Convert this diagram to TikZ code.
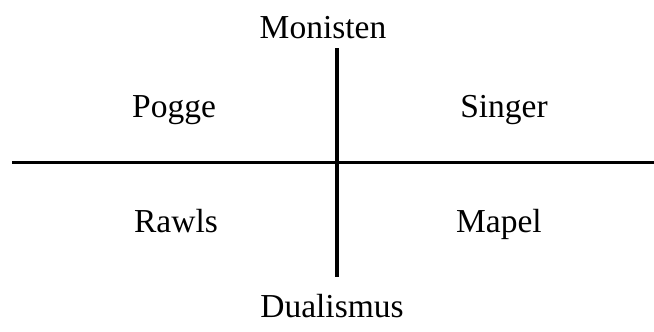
\documentclass[tikz,border=0pt]{standalone}
\usepackage{fontspec}
\setmainfont{Liberation Serif}
\begin{document}
\begin{tikzpicture}[x=1pt,y=-1pt,
  lbl/.style={anchor=base,inner sep=0pt,font=\fontsize{33.5}{40}\selectfont},
  axis/.style={draw=black,line cap=butt}]
\useasboundingbox (0,0) rectangle (654,332);
\node[lbl] (mon) at (323,38) {Monisten};
\node[lbl] (dual) at (332,317) {Dualismus};
\node[lbl] (pogge) at (174,117) {Pogge};
\node[lbl] (singer) at (504,117) {Singer};
\node[lbl] (rawls) at (176,232) {Rawls};
\node[lbl] (mapel) at (499,232) {Mapel};
\coordinate (vtop) at (337,48);
\coordinate (vbot) at (337,277);
\coordinate (hl) at (12,162.5);
\coordinate (hr) at (654,162.5);
\draw[axis,line width=4pt] (vtop) -- (vbot);
\draw[axis,line width=3pt] (hl) -- (hr);
\end{tikzpicture}
\end{document}
